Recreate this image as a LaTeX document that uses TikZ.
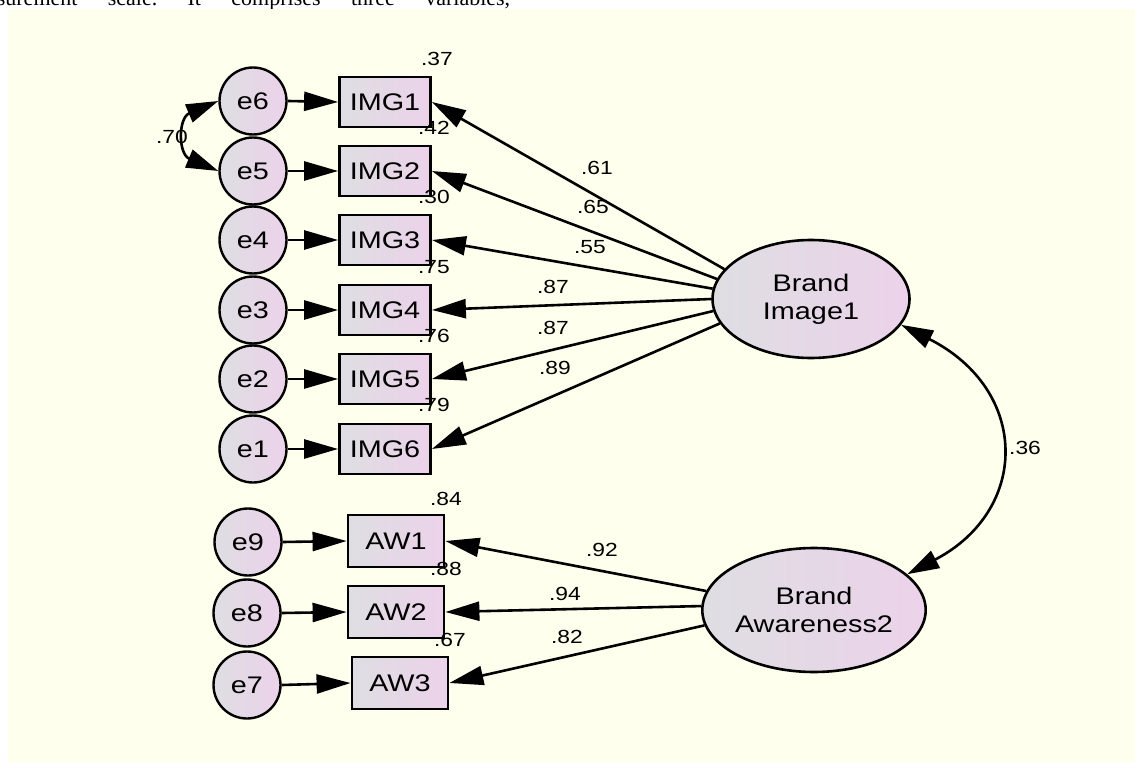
\documentclass[tikz,border=0pt]{standalone}
\usepackage{fontspec}
\setmainfont{Liberation Sans}[FakeStretch=1.2]
\newfontfamily\timesf{Liberation Serif}
\usetikzlibrary{arrows.meta,shapes.geometric}
\definecolor{bgy}{RGB}{254,255,236}
\definecolor{shg}{RGB}{222,222,226}
\definecolor{shp}{RGB}{236,210,234}
\tikzset{
  obs/.style={draw=black, line width=2.8pt, left color=shg, right color=shp, minimum width=91pt, minimum height=50pt, inner sep=0pt, font=\fontsize{24}{24}\selectfont},
  obsaw/.style={obs, minimum width=96pt, minimum height=52pt},
  err/.style={circle, draw=black, line width=2.4pt, left color=shg, right color=shp, minimum size=67pt, inner sep=0pt, font=\fontsize{24}{24}\selectfont},
  lat/.style={ellipse, draw=black, line width=2.6pt, left color=shg, right color=shp, inner sep=0pt, font=\fontsize{24}{28}\selectfont, align=center},
  num/.style={font=\fontsize{19}{19}\selectfont, inner sep=0pt},
  reg/.style={line width=2.6pt, -{Triangle[length=34pt,width=19pt]}},
  cov/.style={line width=2.6pt, {Triangle[length=32pt,width=19pt]}-{Triangle[length=32pt,width=19pt]}},
}
\begin{document}
\begin{tikzpicture}[x=1pt,y=-1pt]
\useasboundingbox (0,0) rectangle (1135,762);
\fill[white] (0,0) rectangle (1135,762);
\begin{scope}
  \clip (0,0) rectangle (1135,9);
  \node[anchor=base west, inner sep=0pt, font=\timesf\fontsize{22}{22}\selectfont] (toptext) at (-40,6) {\frenchspacing\makebox[550pt][s]{measurement scale. It comprises three variables,}};
\end{scope}
\fill[bgy] (8,9) rectangle (1135,762);

% error terms
\node[err] (e6) at (253,101) {e6};
\node[err] (e5) at (253,171) {e5};
\node[err] (e4) at (253,240) {e4};
\node[err] (e3) at (253,310) {e3};
\node[err] (e2) at (253,379) {e2};
\node[err] (e1) at (253,449) {e1};
\node[err] (e9) at (248,542) {e9};
\node[err] (e8) at (247,613) {e8};
\node[err] (e7) at (247,685) {e7};

% observed
\node[obs] (IMG1) at (385,102) {IMG1};
\node[obs] (IMG2) at (385,171) {IMG2};
\node[obs] (IMG3) at (385,240) {IMG3};
\node[obs] (IMG4) at (385,310) {IMG4};
\node[obs] (IMG5) at (385,379) {IMG5};
\node[obs] (IMG6) at (385,449) {IMG6};
\node[obsaw] (AW1) at (396,541) {AW1};
\node[obsaw] (AW2) at (396,612) {AW2};
\node[obsaw] (AW3) at (400,683) {AW3};

% latent
\node[lat, minimum width=197pt, minimum height=118pt] (BI) at (811,299) {Brand\\Image1};
\node[lat, minimum width=192pt, minimum height=124pt] (BA) at (814,610) {Brand\\Awareness2};

% error arrows
\foreach \e/\o in {e6/IMG1,e5/IMG2,e4/IMG3,e3/IMG4,e2/IMG5,e1/IMG6,e9/AW1,e8/AW2,e7/AW3}
  \draw[reg] (\e.east) -- (\o.west);

% loadings
\draw[reg] (BI.161) -- (IMG1.east);
\draw[reg] (BI.168) -- (IMG2.east);
\draw[reg] (BI.174) -- (IMG3.east);
\draw[reg] (BI.180) -- (IMG4.east);
\draw[reg] (BI.187) -- (IMG5.east);
\draw[reg] (BI.195) -- (IMG6.east);
\draw[reg] (BA.170) -- (AW1.east);
\draw[reg] (BA.178) -- (AW2.east);
\draw[reg] (BA.188) -- (AW3.east);

% covariances
\draw[cov] (e6.west) .. controls (178,118) and (178,154) .. (e5.west);
\draw[cov] (BI.-16) .. controls (1030,390) and (1030,510) .. (BA.21);

% numbers
\node[num] (c70) at (172,137) {.70};
\node[num] (c36) at (1025,448) {.36};
\node[num] (r1) at (437,59) {.37};
\node[num] (r2) at (434,128) {.42};
\node[num] (r3) at (434,197) {.30};
\node[num] (r4) at (434,267) {.75};
\node[num] (r5) at (434,336) {.76};
\node[num] (r6) at (434,405) {.79};
\node[num] (r7) at (446,499) {.84};
\node[num] (r8) at (446,569) {.88};
\node[num] (r9) at (450,640) {.67};
\node[num] (l1) at (597,168) {.61};
\node[num] (l2) at (593,207) {.65};
\node[num] (l3) at (590,247) {.55};
\node[num] (l4) at (553,287) {.87};
\node[num] (l5) at (553,328) {.87};
\node[num] (l6) at (555,368) {.89};
\node[num] (l7) at (602,550) {.92};
\node[num] (l8) at (565,594) {.94};
\node[num] (l9) at (567,637) {.82};
\end{tikzpicture}
\end{document}
